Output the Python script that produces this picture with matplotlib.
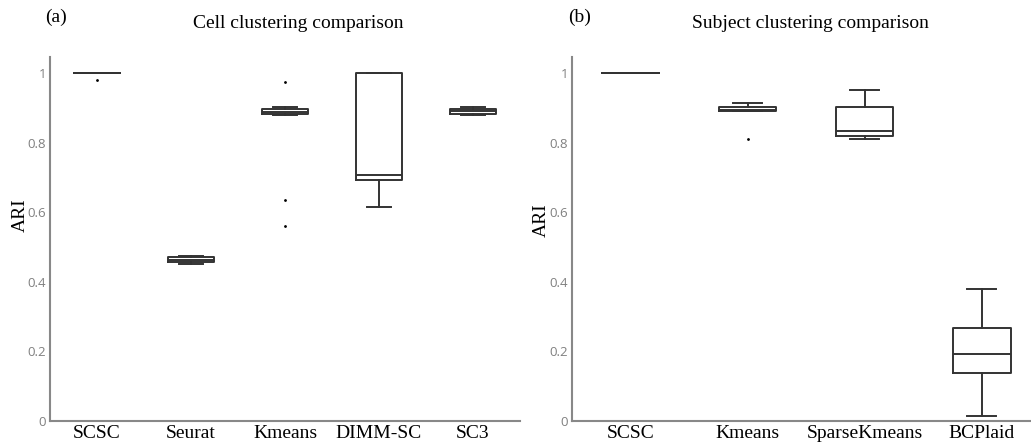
import numpy as np
import matplotlib.pyplot as plt

# (ARI values)
cell_methods = ["SCSC", "Seurat", "Kmeans", "DIMM-SC", "SC3"]
cell_whislo = [1.0, 0.452, 0.878, 0.616, 0.879]
cell_q1 = [1.0, 0.457, 0.881, 0.692, 0.882]
cell_med = [1.0, 0.463, 0.888, 0.706, 0.890]
cell_q3 = [1.0, 0.470, 0.897, 1.0, 0.898]
cell_whishi = [1.0, 0.475, 0.902, 1.0, 0.903]
cell_fliers = [[0.980], [], [0.974, 0.635, 0.560], [], []]

subj_methods = ["SCSC", "Kmeans", "SparseKmeans", "BCPlaid"]
subj_whislo = [1.0, 0.890, 0.809, 0.0135]
subj_q1 = [1.0, 0.890, 0.820, 0.138]
subj_med = [1.0, 0.895, 0.834, 0.192]
subj_q3 = [1.0, 0.903, 0.903, 0.268]
subj_whishi = [1.0, 0.915, 0.950, 0.378]
subj_fliers = [[], [0.809], [], []]

yticks = [0, 0.2, 0.4, 0.6, 0.8, 1]
ytick_labels = ["0", "0.2", "0.4", "0.6", "0.8", "1"]

serif = "Liberation Serif"
line_col = "#333333"

fig = plt.figure(figsize=(10.31, 4.45), dpi=100)
W, H = 1031, 445


def px_axes(x0, x1, y0, y1):
    return fig.add_axes([x0 / W, 1 - y1 / H, (x1 - x0) / W, (y1 - y0) / H])


def draw_panel(ax, methods, lo, q1, med, q3, hi, fl, xmax):
    stats = []
    for i in range(len(methods)):
        stats.append(dict(med=med[i], q1=q1[i], q3=q3[i], whislo=lo[i],
                          whishi=hi[i], fliers=fl[i]))
    ax.bxp(stats, positions=range(len(methods)), widths=0.49, capwidths=0.245,
           boxprops=dict(color=line_col, linewidth=1.4),
           medianprops=dict(color=line_col, linewidth=1.4),
           whiskerprops=dict(color=line_col, linewidth=1.4),
           capprops=dict(color=line_col, linewidth=1.4),
           flierprops=dict(marker="o", markersize=1.0, markerfacecolor="black",
                           markeredgecolor="black"),
           manage_ticks=False)
    ax.set_xlim(-0.5, xmax)
    ax.set_ylim(0, 1.046)
    ax.set_xticks(range(len(methods)))
    ax.set_xticklabels(methods, fontfamily=serif, fontsize=14, color="black")
    ax.set_yticks(yticks)
    ax.set_yticklabels(ytick_labels, fontfamily="Open Sans", fontsize=9.5, color="#808080")
    ax.tick_params(length=0, pad=3)
    ax.tick_params(axis="x", pad=3)
    for s in ["top", "right"]:
        ax.spines[s].set_visible(False)
    for s in ["left", "bottom"]:
        ax.spines[s].set_color("#888888")
        ax.spines[s].set_linewidth(1.5)


ax1 = px_axes(50, 520, 57, 421)
draw_panel(ax1, cell_methods, cell_whislo, cell_q1, cell_med, cell_q3,
           cell_whishi, cell_fliers, 4.5)

ax2 = px_axes(572, 1031, 57, 421)
draw_panel(ax2, subj_methods, subj_whislo, subj_q1, subj_med, subj_q3,
           subj_whishi, subj_fliers, 3.42)

fig.text(298 / W, 1 - 23 / H, "Cell clustering comparison", fontfamily=serif,
         fontsize=14, ha="center", va="center")
fig.text(810 / W, 1 - 23 / H, "Subject clustering comparison", fontfamily=serif,
         fontsize=14, ha="center", va="center")
fig.text(56 / W, 1 - 17 / H, "(a)", fontfamily=serif, fontsize=14, ha="center", va="center")
fig.text(580 / W, 1 - 17 / H, "(b)", fontfamily=serif, fontsize=14, ha="center", va="center")
fig.text(20 / W, 1 - 215 / H, "ARI", fontfamily=serif, fontsize=14, rotation=90,
         ha="center", va="center")
fig.text(541 / W, 1 - 220 / H, "ARI", fontfamily=serif, fontsize=14, rotation=90,
         ha="center", va="center")

fig.savefig("out.png", dpi=100)
